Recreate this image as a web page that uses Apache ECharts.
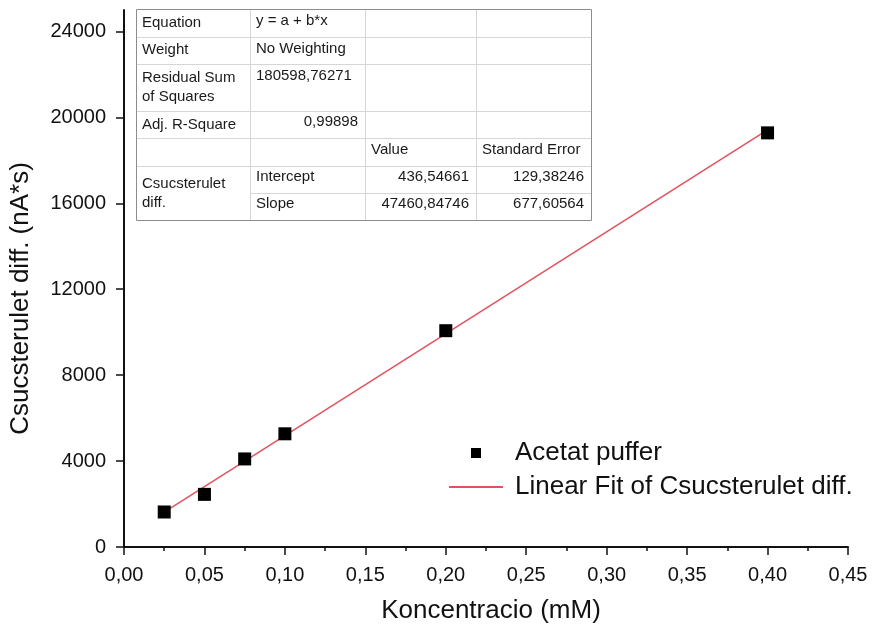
<!DOCTYPE html>
<html>
<head>
<meta charset="utf-8">
<script src="https://cdn.jsdelivr.net/npm/echarts@6/dist/echarts.min.js"></script>
<style>
  html, body { margin: 0; padding: 0; background: #fff; }
  #chart { width: 872px; height: 629px; }
</style>
</head>
<body>
<div id="chart"></div>
<script>
// Measured points: concentration (mM) vs. peak area difference (nA*s)
const concentration = [0.025, 0.05, 0.075, 0.1, 0.2, 0.4];
const peakDiff = [1630, 2450, 4100, 5270, 10070, 19280];

// Linear fit results (y = a + b*x)
const fitIntercept = 436.54661;
const fitSlope = 47460.84746;
const fitInterceptErr = 129.38246;
const fitSlopeErr = 677.60564;
const residualSS = 180598.76271;
const adjRSquare = 0.99898;
const fitRange = [0.025, 0.4];

// Axis ticks
const xTicks = [0, 0.05, 0.1, 0.15, 0.2, 0.25, 0.3, 0.35, 0.4, 0.45];
const yTicks = [0, 4000, 8000, 12000, 16000, 20000, 24000];

const seriesNames = ['Acetat puffer', 'Linear Fit of Csucsterulet diff.'];

const FONT = '"Liberation Sans", Arial, sans-serif';
const comma = (v, d) => v.toFixed(d).replace('.', ',');

const scatterData = concentration.map((x, i) => [x, peakDiff[i]]);
const fitData = fitRange.map(x => [x, fitIntercept + fitSlope * x]);

// ---- fit result table (drawn as graphic) ----
const colX = [136, 250, 365, 476, 591];
const rowY = [9, 37, 64, 111, 138, 166, 193, 220];

const tableElements = [];
const gridColor = '#d6d6d6';
function hLine(x1, x2, y, color) {
  tableElements.push({ type: 'line', silent: true,
    shape: { x1: x1, y1: y + 0.5, x2: x2, y2: y + 0.5 },
    style: { stroke: color || gridColor, lineWidth: 1 } });
}
function vLine(x, y1, y2, color) {
  tableElements.push({ type: 'line', silent: true,
    shape: { x1: x + 0.5, y1: y1, x2: x + 0.5, y2: y2 },
    style: { stroke: color || gridColor, lineWidth: 1 } });
}
function cellText(str, x, y, align) {
  tableElements.push({ type: 'text', silent: true, x: x, y: y,
    style: { text: str, font: '15px ' + FONT, fill: '#1a1a1a',
      align: align || 'left', verticalAlign: 'middle' } });
}

tableElements.push({ type: 'rect', silent: true,
  shape: { x: colX[0] + 0.5, y: rowY[0] + 0.5, width: colX[4] - colX[0], height: rowY[7] - rowY[0] },
  style: { fill: '#fff', stroke: '#8c8c8c', lineWidth: 1 } });
for (let r = 1; r < 7; r++) {
  hLine(r === 6 ? colX[1] : colX[0] + 1, colX[4], rowY[r]);
}
for (let c = 1; c < 4; c++) vLine(colX[c], rowY[0] + 1, rowY[7]);

const L = 6, R = 7;
cellText('Equation', colX[0] + L, 23);
cellText('y = a + b*x', colX[1] + L, 21);
cellText('Weight', colX[0] + L, 50);
cellText('No Weighting', colX[1] + L, 48.5);
cellText('Residual Sum', colX[0] + L, 78);
cellText('of Squares', colX[0] + L, 97);
cellText(comma(residualSS, 5), colX[1] + L, 76);
cellText('Adj. R-Square', colX[0] + L, 125);
cellText(comma(adjRSquare, 5), colX[2] - R, 122, 'right');
cellText('Value', colX[2] + L, 150);
cellText('Standard Error', colX[3] + L, 150);
cellText('Csucsterulet', colX[0] + L, 184);
cellText('diff.', colX[0] + L, 203);
cellText('Intercept', colX[1] + L, 177);
cellText(comma(fitIntercept, 5), colX[3] - R, 177, 'right');
cellText(comma(fitInterceptErr, 5), colX[4] - R, 177, 'right');
cellText('Slope', colX[1] + L, 204);
cellText(comma(fitSlope, 5), colX[3] - R, 204, 'right');
cellText(comma(fitSlopeErr, 5), colX[4] - R, 204, 'right');

const chart = echarts.init(document.getElementById('chart'), null, { renderer: 'canvas' });

chart.setOption({
  backgroundColor: '#fff',
  animation: false,
  textStyle: { fontFamily: FONT },
  grid: { left: 124, right: 24, top: 10, bottom: 80, containLabel: false },
  xAxis: {
    type: 'value',
    min: 0, max: 0.45, interval: 0.05,
    name: 'Koncentracio (mM)',
    nameLocation: 'middle',
    nameGap: 51,
    nameTextStyle: { fontSize: 26, color: '#111', fontFamily: FONT, padding: [0, 0, 0, 10] },
    axisLine: { show: true, onZero: false, lineStyle: { color: '#111', width: 2 } },
    axisTick: { show: true, length: 8, lineStyle: { color: '#111', width: 1.5 } },
    minorTick: { show: true, splitNumber: 2, length: 4, lineStyle: { color: '#111', width: 1.5 } },
    axisLabel: {
      fontSize: 20, color: '#111', margin: 18, fontFamily: FONT,
      formatter: v => comma(v, 2)
    },
    splitLine: { show: false },
    minorSplitLine: { show: false }
  },
  yAxis: {
    type: 'value',
    min: 0, max: 25000, interval: 4000,
    name: 'Csucsterulet diff. (nA*s)',
    nameLocation: 'middle',
    nameGap: 90,
    nameTextStyle: { fontSize: 26, color: '#111', fontFamily: FONT, padding: [0, 40, 0, 0] },
    axisLine: { show: true, onZero: false, lineStyle: { color: '#111', width: 2 } },
    axisTick: { show: true, length: 8, customValues: yTicks, lineStyle: { color: '#111', width: 1.5 } },
    axisLabel: {
      fontSize: 20, color: '#111', margin: 18, fontFamily: FONT,
      customValues: yTicks,
      formatter: v => String(v)
    },
    splitLine: { show: false }
  },
  legend: {
    orient: 'vertical',
    left: 443, top: 435,
    itemWidth: 54, itemHeight: 10,
    itemGap: 8,
    symbolKeepAspect: true,
    textStyle: { fontSize: 26, color: '#111', fontFamily: FONT, padding: [0, 0, 0, 7] },
    data: [
      { name: seriesNames[0], icon: 'path://M0,0L10,0L10,10L0,10Z', itemStyle: { opacity: 1 } },
      { name: seriesNames[1], itemStyle: { opacity: 0 } }
    ]
  },
  graphic: tableElements,
  series: [
    {
      name: seriesNames[1],
      type: 'line',
      data: fitData,
      showSymbol: false,
      symbol: 'none',
      lineStyle: { color: '#e2525c', width: 1.5 },
      itemStyle: { color: '#e2525c' },
      z: 2
    },
    {
      name: seriesNames[0],
      type: 'scatter',
      data: scatterData,
      symbol: 'rect',
      symbolSize: 13,
      itemStyle: { color: '#000', opacity: 1 },
      z: 3
    }
  ]
});
</script>
</body>
</html>
